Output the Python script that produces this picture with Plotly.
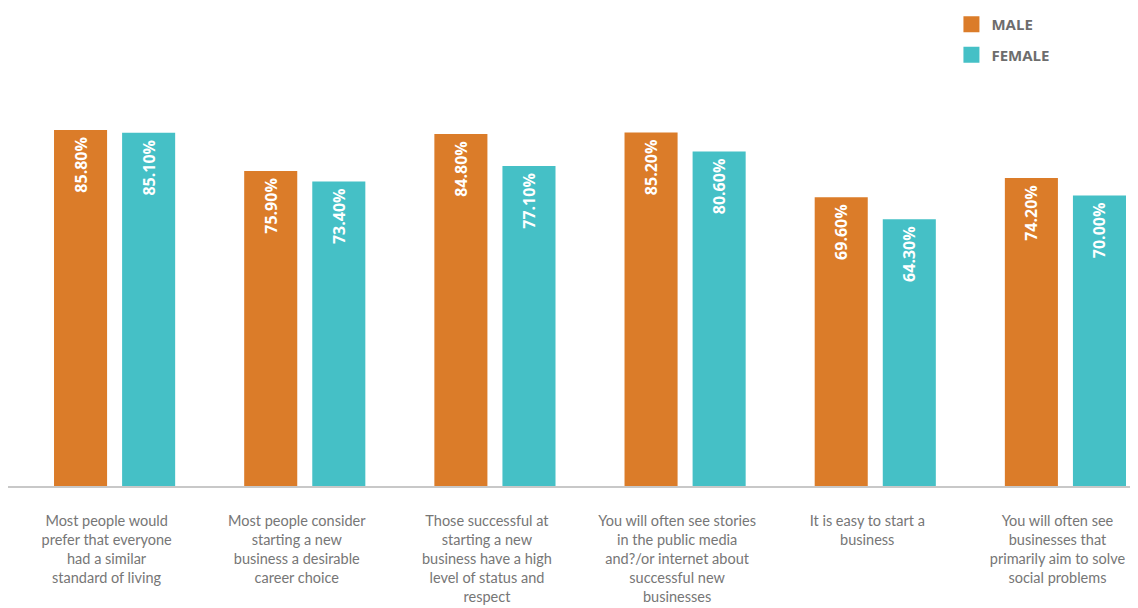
import plotly.graph_objects as go

categories = [
    "Most people would<br>prefer that everyone<br>had a similar<br>standard of living",
    "Most people consider<br>starting a new<br>business a desirable<br>career choice",
    "Those successful at<br>starting a new<br>business have a high<br>level of status and<br>respect",
    "You will often see stories<br>in the public media<br>and?/or internet about<br>successful new<br>businesses",
    "It is easy to start a<br>business",
    "You will often see<br>businesses that<br>primarily aim to solve<br>social problems",
]
male = [85.8, 75.9, 84.8, 85.2, 69.6, 74.2]
female = [85.1, 73.4, 77.1, 80.6, 64.3, 70.0]
series_names = ["MALE", "FEMALE"]
colors = ["#DB7C29", "#45C0C6"]

fig = go.Figure()
for name, vals, col in zip(series_names, [male, female], colors):
    fig.add_trace(go.Bar(
        x=categories, y=vals, name=name, marker=dict(color=col, line=dict(width=0)),
        texttemplate="%{y:.2f}%\u00a0", textposition="inside", insidetextanchor="end",
        textangle=-90, constraintext="none",
        textfont=dict(family="Open Sans", size=16, color="white", weight="bold"),
        showlegend=False, hoverinfo="skip",
    ))
for name, col in zip(series_names, colors):
    fig.add_trace(go.Scatter(
        x=[None], y=[None], mode="markers", name=name, legendgroup=name,
        marker=dict(symbol="square", size=20, color=col),
    ))

# the page body has an 8px margin, so the figure is sized to fit the window
fig.update_layout(
    width=1130, height=600,
    margin=dict(l=0, r=0, t=63, b=122, autoexpand=False),
    paper_bgcolor="white", plot_bgcolor="white",
    barmode="group", bargap=0.284, bargroupgap=0.2206,
    showlegend=True,
    legend=dict(
        xref="container", yref="container", x=0.8349, y=1.0033,
        xanchor="left", yanchor="top", tracegroupgap=8,
        font=dict(family="Open Sans", size=15, color="#6d6d6d", weight="bold"),
        bgcolor="rgba(0,0,0,0)",
    ),
    xaxis=dict(
        type="category", range=[-0.5605, 5.3816],
        showline=True, linecolor="#c8c8c8", linewidth=1.5,
        showgrid=False, zeroline=False, ticks="", tickangle=0,
        ticklabelstandoff=21, ticklabelshift=-8,
        tickfont=dict(family="Lato", size=14.5, color="#767676"),
    ),
    yaxis=dict(range=[0, 100], visible=False, showgrid=False, zeroline=False),
)

fig.write_html("out.html")
